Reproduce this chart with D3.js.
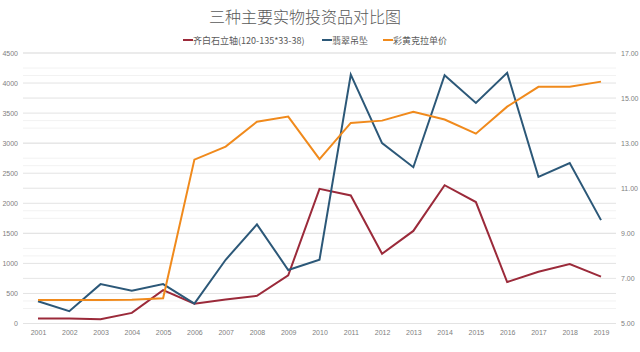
<!DOCTYPE html>
<html>
<head>
<meta charset="utf-8">
<script src="https://cdn.jsdelivr.net/npm/d3@7"></script>
<style>
  body { margin: 0; background: #fff; }
  svg { font-family: "Noto Sans CJK SC", "Liberation Sans", sans-serif; }
  .axis text { fill: #808080; font-size: 7px; font-family: "Liberation Sans", sans-serif; }
  .axis path, .axis line { display: none; }
</style>
</head>
<body>
<script>
// Basic props
let w = 640, h = 352;
let plotLeft = 23, plotRight = 616, plotTop = 53, plotBottom = 323.5;

// Data
let years = ["2001","2002","2003","2004","2005","2006","2007","2008","2009","2010",
             "2011","2012","2013","2014","2015","2016","2017","2018","2019"];
let qibaishi = [83, 85, 72, 177, 555, 330, 400, 460, 800, 2240,
                2130, 1160, 1540, 2300, 2020, 690, 860, 990, 780];
let feicui = [370, 205, 655, 545, 655, 330, 1060, 1650, 890, 1060,
              4140, 3000, 2600, 4130, 3670, 4170, 2440, 2670, 1720];
let caihuang = [6.04, 6.04, 6.04, 6.05, 6.12, 12.27, 12.85, 13.95, 14.18, 12.29,
                13.9, 14.0, 14.39, 14.05, 13.42, 14.62, 15.5, 15.5, 15.73];
let leftTicks = [0, 500, 1000, 1500, 2000, 2500, 3000, 3500, 4000, 4500];
let rightTicks = [5, 7, 9, 11, 13, 15, 17];
let seriesNames = ["齐白石立轴(120-135*33-38)", "翡翠吊坠", "彩黄克拉单价"];
let colors = ["#9b2a3a", "#2c5878", "#f08a1c"];

// Scales
let xScale = d3.scalePoint().domain(years).range([38, 601]);
let yScale = d3.scaleLinear().domain([0, 4500]).range([plotBottom, plotTop]);
let y2Scale = d3.scaleLinear().domain([5, 17]).range([plotBottom, plotTop]);

let svg = d3.select("body").append("svg")
  .attr("width", w).attr("height", h);

// Grid lines (minor then major)
svg.append("g").selectAll("line")
  .data(d3.range(250, 4500, 500))
  .join("line")
  .attr("x1", plotLeft).attr("x2", plotRight)
  .attr("y1", d => yScale(d)).attr("y2", d => yScale(d))
  .attr("stroke", "#f2f2f2").attr("stroke-width", 1);

svg.append("g").selectAll("line")
  .data(d3.range(6, 17, 2))
  .join("line")
  .attr("x1", plotLeft).attr("x2", plotRight)
  .attr("y1", d => y2Scale(d)).attr("y2", d => y2Scale(d))
  .attr("stroke", "#f2f2f2").attr("stroke-width", 1);

svg.append("g").selectAll("line")
  .data(rightTicks)
  .join("line")
  .attr("x1", plotLeft).attr("x2", plotRight)
  .attr("y1", d => y2Scale(d)).attr("y2", d => y2Scale(d))
  .attr("stroke", "#e8e8e8").attr("stroke-width", 1);

svg.append("g").selectAll("line")
  .data(leftTicks)
  .join("line")
  .attr("x1", plotLeft).attr("x2", plotRight)
  .attr("y1", d => yScale(d)).attr("y2", d => yScale(d))
  .attr("stroke", "#e3e3e3").attr("stroke-width", 1);

// Axes
svg.append("g")
  .attr("class", "axis")
  .attr("transform", "translate(" + (plotLeft - 1) + ",0)")
  .call(d3.axisLeft(yScale).tickValues(leftTicks).tickSize(0).tickPadding(4)
    .tickFormat(d3.format("d")));

svg.append("g")
  .attr("class", "axis")
  .attr("transform", "translate(" + (plotRight + 1) + ",0)")
  .call(d3.axisRight(y2Scale).tickValues(rightTicks).tickSize(0).tickPadding(4)
    .tickFormat(d3.format(".2f")));

svg.append("g")
  .attr("class", "axis")
  .attr("transform", "translate(0," + (plotBottom + 4) + ")")
  .call(d3.axisBottom(xScale).tickSize(0).tickPadding(3));

// Lines
let line = d3.line().x((d, i) => xScale(years[i])).y(d => yScale(d));
let line2 = d3.line().x((d, i) => xScale(years[i])).y(d => y2Scale(d));

svg.append("path").datum(qibaishi)
  .attr("fill", "none").attr("stroke", colors[0]).attr("stroke-width", 2)
  .attr("d", line);
svg.append("path").datum(feicui)
  .attr("fill", "none").attr("stroke", colors[1]).attr("stroke-width", 2)
  .attr("d", line);
svg.append("path").datum(caihuang)
  .attr("fill", "none").attr("stroke", colors[2]).attr("stroke-width", 2)
  .attr("d", line2);

// Title
svg.append("text")
  .attr("x", 305).attr("y", 23)
  .attr("text-anchor", "middle")
  .attr("fill", "#595959")
  .attr("font-size", "16px")
  .attr("font-weight", 300)
  .text("三种主要实物投资品对比图");

// Legend
let legendX = [183, 322, 383];
let legend = svg.append("g").selectAll("g")
  .data(seriesNames)
  .join("g")
  .attr("transform", (d, i) => "translate(" + legendX[i] + ",40)");

legend.append("line")
  .attr("x1", 0).attr("x2", 10).attr("y1", 0).attr("y2", 0)
  .attr("stroke", (d, i) => colors[i]).attr("stroke-width", 2);

legend.append("text")
  .attr("x", 10).attr("y", 3.5)
  .attr("fill", "#595959")
  .attr("font-size", "9px")
  .text(d => d);
</script>
</body>
</html>
